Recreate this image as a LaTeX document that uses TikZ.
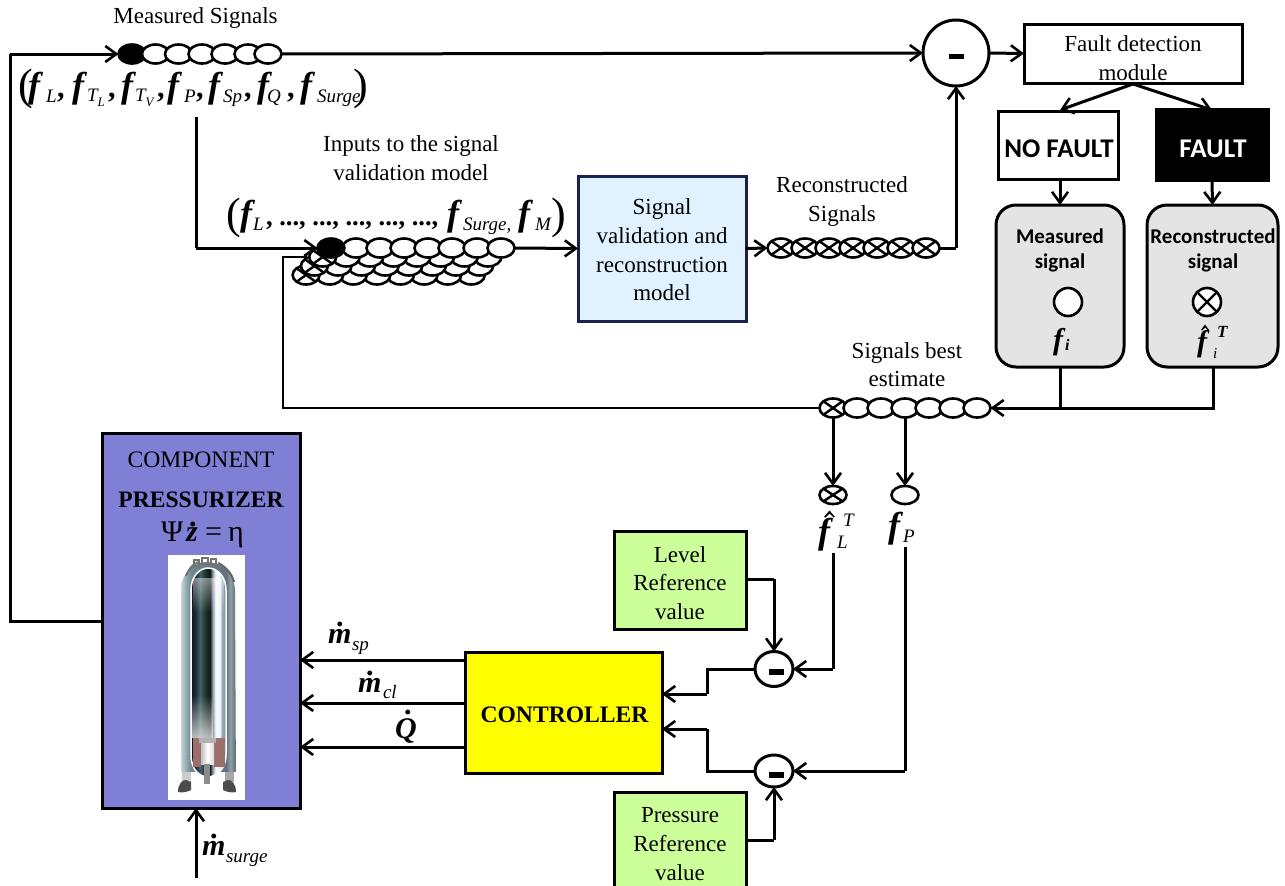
\documentclass[tikz,border=0pt]{standalone}
\usepackage{fontspec}
\setmainfont{Liberation Serif}
\newfontfamily\carl{Carlito}
\usetikzlibrary{arrows.meta,shapes.geometric,fadings}
\definecolor{compc}{HTML}{7F7FD6}
\definecolor{bluebox}{HTML}{E0F2FF}
\definecolor{navy}{HTML}{1A2050}
\definecolor{greenbox}{HTML}{CCFF99}
\definecolor{grayb}{HTML}{E4E4E4}
\definecolor{ctlc}{HTML}{FFFF00}
\definecolor{heat}{HTML}{9C6F68}
\newcommand\fsz[2]{\fontsize{#1}{#2}\selectfont}
\newcommand\BF{{\fsz{36}{36}\bfseries\itshape f}}
\newcommand\SB[1]{{\fsz{19}{19}\itshape #1}}
\newcommand\TK[3][-5pt]{\makebox[#2][l]{\BF}\raisebox{#1}{\SB{#3}}}
\newcommand\TKK[3]{\makebox[#1][l]{\BF}\raisebox{-4pt}{\SB{#2}\raisebox{-5pt}{\fsz{13}{13}\itshape #3}}}
\newcommand\DOTT[4]{\makebox[0pt][l]{\hspace{#2}\raisebox{#3}{\fsz{#4}{#4}\bfseries .}}{\fsz{#4}{#4}\bfseries\itshape #1}}
\pgfdeclarehorizontalshading{vesselout}{100bp}{rgb(0bp)=(.78,.83,.85);rgb(25bp)=(.78,.83,.85);rgb(30bp)=(.56,.66,.69);rgb(34bp)=(.44,.53,.56);rgb(66bp)=(.38,.44,.50);rgb(70bp)=(.56,.63,.66);rgb(75bp)=(.35,.41,.41);rgb(100bp)=(.35,.41,.41)}
\pgfdeclarehorizontalshading{vesselin}{100bp}{rgb(0bp)=(.06,.09,.13);rgb(25bp)=(.06,.09,.13);rgb(31bp)=(.10,.16,.19);rgb(38bp)=(.25,.38,.42);rgb(45bp)=(.13,.21,.18);rgb(52bp)=(.06,.08,.09);rgb(56bp)=(.56,.63,.66);rgb(60bp)=(.96,.97,.98);rgb(66bp)=(.96,.97,.98);rgb(69bp)=(.60,.69,.75);rgb(75bp)=(.44,.53,.60);rgb(100bp)=(.44,.53,.60)}
\tikzset{
 x=1pt,y=-1pt,
 line/.style={line width=3pt,draw=black},
 thinline/.style={line width=1.2pt,draw=black},
 arr/.style={line,-{Straight Barb[length=11pt,width=16pt,line width=2.6pt]}},
 box/.style={rectangle,draw=black,line width=3pt,inner sep=0pt,outer sep=0pt,align=center},
 lab/.style={inner sep=0pt,outer sep=0pt,align=center,font=\fsz{23}{28.7}},
 tok/.style={inner sep=0pt,outer sep=0pt,anchor=base west},
 ov/.style={ellipse,draw=black,fill=white,line width=2.6pt,minimum width=27pt,minimum height=19pt,inner sep=0pt,outer sep=0pt},
 blk/.style={ov,fill=black},
 xov/.style={ov,path picture={\draw[line width=2.4pt] (path picture bounding box.north west)--(path picture bounding box.south east) (path picture bounding box.south west)--(path picture bounding box.north east);}},
 sumc/.style={ellipse,draw=black,fill=white,line width=3pt,inner sep=0pt,outer sep=0pt},
 bar/.style={rectangle,fill=black,inner sep=0pt,outer sep=0pt},
 gbox/.style={box,rounded corners=20pt,fill=grayb},
 glab/.style={inner sep=0pt,outer sep=0pt,align=center,font=\carl\bfseries\fsz{21}{25.5}},
 flab/.style={inner sep=0pt,outer sep=0pt,font=\carl\bfseries\fsz{27}{27}},
 par/.style={tok,font=\fsz{44}{44}},
}
\begin{document}
\begin{tikzpicture}
\clip (0,0) rectangle (1285,886);
\fill[white] (0,0) rectangle (1285,886);
% component
\node[box,fill=compc,minimum width=198pt,minimum height=375pt] (comp) at (201,620.5) {};
\node[lab,font=\fsz{23.6}{23.6}] (compt) at (201,459.5) {COMPONENT};
\node[lab,font=\fsz{23.6}{23.6}\bfseries] (press) at (201,500) {PRESSURIZER};
\node[tok,font=\fsz{30}{30}] (eq1) at (161,541) {Ψ};
\node[tok] (eq2) at (186,541) {\DOTT{z}{3pt}{15pt}{30}};
\node[tok,font=\fsz{30}{30}] (eq3) at (205,541) {=};
\node[tok,font=\fsz{30}{30}] (eq4) at (228,541) {η};
% vessel illustration
\fill[white] (168,555) rectangle (245,800);
\shade[shading=vesselout] (181,790) -- (181,590) .. controls (181,572) and (195,562) .. (207,562) .. controls (220,562) and (234,572) .. (235,590) -- (236,790) -- cycle;
\fill[white] (168,772) rectangle (245,800);
\fill[black!20] (182,772) rectangle (191,782);
\fill[black!35] (225,772) rectangle (234,782);
\fill[black!70] (178,792) .. controls (178,784) and (182,780) .. (186,780) -- (191,782) -- (191,790) .. controls (187,792) and (182,793) .. (178,792) -- cycle;
\fill[black!70] (236,792) .. controls (236,784) and (232,780) .. (228,780) -- (223,782) -- (223,790) .. controls (227,792) and (232,793) .. (236,792) -- cycle;
\draw[white,line width=1.5pt,shading=vesselin,shade] (191,755) -- (191,590) .. controls (191,576) and (200,568) .. (208,568) .. controls (217,568) and (226,576) .. (226,590) -- (226,755) .. controls (226,770) and (215,777) .. (208,777) .. controls (200,777) and (191,770) .. (191,755) -- cycle;
\fill[white,opacity=.7,path fading=north] (192,695) rectangle (213,738);
\fill[white,opacity=.45,path fading=south] (193,578) rectangle (224,612);
\fill[heat] (193,738) rectangle (201,767);
\fill[heat] (214,738) rectangle (225,767);
\fill[black!30] (199,738) rectangle (216,743);
\shade[left color=black!25,right color=black!15,middle color=white] (201,743) rectangle (214,764);
\fill[black!45] (204,764) rectangle (210,784);
\draw[black!55,line width=2pt] (186,576) .. controls (190,566) and (196,562) .. (200,562);
\draw[black!55,line width=1.6pt] (194,560) rectangle (199,566) (202,558) rectangle (208,564) (211,559) rectangle (216,565);
\draw[black!60,line width=2.2pt] (218,563) .. controls (226,567) and (232,574) .. (234,582);
% measured chain
\node[blk] (m1) at (132,54) {};
\foreach \i/\x in {2/155.5,3/178.5,4/202,5/225,6/248,7/268} \node[ov] (m\i) at (\x,54) {};
\node[lab] (mlab) at (195.5,18) {Measured Signals};
% big formula
\node[par] (pl) at (19,99) {(};
\node[tok] (t1) at (28,97) {\TK{18pt}{L}};
\node[tok] (t2) at (72,97) {\TKK{15pt}{T}{L}};
\node[tok] (t3) at (121,97) {\TKK{14pt}{T}{V}};
\node[tok] (t4) at (167,97) {\TK{17pt}{P}};
\node[tok] (t5) at (208,97) {\TK{15pt}{Sp}};
\node[tok] (t6) at (257,97) {\TK{10pt}{Q}};
\node[tok] (t7) at (300,97) {\TK{17pt}{Surge}};
\foreach \i/\x in {1/57,2/108,3/157,4/196,5/244,6/287} \node[tok,font=\fsz{30}{30}\bfseries] (cm\i) at (\x,97) {,};
\node[par] (pr) at (353,99) {)};
% second formula
\node[lab] (ilab) at (411,158) {Inputs to the signal\\validation model};
\node[par] (pl2) at (226,228) {(};
\node[tok] (u1) at (240,225) {\TK{13pt}{L}};
\node[tok,font=\fsz{26.5}{26.5}\bfseries] (u2) at (266,225) {, ..., ..., ..., ..., ...,};
\node[tok] (u3) at (447,225) {\TK{16pt}{Surge,}};
\node[tok] (u4) at (518,225) {\TK{17pt}{M}};
\node[par] (pr2) at (551,228) {)};
% stacked chain
\foreach \r in {3,2,1}{
 \pgfmathsetmacro\dx{-8.3*\r}
 \pgfmathsetmacro\dy{9*\r}
 \begin{scope}[shift={(\dx,\dy)}]
 \foreach \i in {8,...,1}{
  \pgfmathsetmacro\xx{331+23.6*(\i-1)}
  \ifnum\i=1 \node[xov] (s\r-\i) at (\xx,248) {};
  \else \node[ov] (s\r-\i) at (\xx,248) {}; \fi
 }
 \end{scope}
}
\foreach \i/\x in {2/356,3/380,4/404,5/428,6/452,7/477,8/501} \node[ov] (in\i) at (\x,248) {};
\node[blk] (in1) at (331,248) {};
% validation box
\node[box,draw=navy,fill=bluebox,minimum width=168pt,minimum height=145pt] (val) at (662,248.5) {};
\node[lab] (valt) at (662,250) {Signal\\validation and\\reconstruction\\model};
% reconstructed chain
\foreach \i/\x in {1/781,2/805,3/829,4/853,5/877,6/901,7/926} \node[xov] (r\i) at (\x,248) {};
\node[lab] (rlab) at (842,201.5) {Reconstructed\\Signals};
% summing
\node[circle,draw=black,fill=white,line width=3pt,minimum size=66pt,inner sep=0pt,outer sep=0pt] (sum) at (956,53) {};
\node[bar,minimum width=15pt,minimum height=5.5pt] (sumb) at (956.5,56.5) {};
\node[box,minimum width=218pt,minimum height=59pt] (fd) at (1133,53.5) {};
\node[lab] (fdt) at (1133,58) {Fault detection\\module};
% fault boxes
\node[box,minimum width=120pt,minimum height=68pt] (nf) at (1058,145) {};
\node[flab] (nft) at (1059,149) {NO FAULT};
\node[box,fill=black,minimum width=112pt,minimum height=71pt] (fa) at (1212,144.5) {};
\node[flab,text=white] (fat) at (1213,149) {FAULT};
\node[gbox,minimum width=128pt,minimum height=162pt] (mb) at (1060,286) {};
\node[gbox,minimum width=131pt,minimum height=162pt] (rb) at (1212.5,286) {};
\node[glab] (mbt) at (1060,250.5) {Measured\\signal};
\node[glab] (rbt) at (1213,250.5) {Reconstructed\\signal};
\node[circle,draw=black,fill=white,line width=2.6pt,minimum size=28pt,inner sep=0pt] (mc) at (1068,302) {};
\node[circle,draw=black,fill=white,line width=2.6pt,minimum size=28pt,inner sep=0pt,path picture={\draw[line width=2.4pt] (path picture bounding box.north west)--(path picture bounding box.south east) (path picture bounding box.south west)--(path picture bounding box.north east);}] (rc) at (1207,302) {};
\node[tok] (fi) at (1053,349) {\fsz{30}{30}\bfseries\itshape f\kern2pt\raisebox{-1pt}{\fsz{16}{16}i}};
\node[tok] (fh) at (1197,351) {\fsz{30}{30}\bfseries\itshape f};
\fill (1201,330) -- (1205,324.5) -- (1209,330) -- (1208,330.5) -- (1205,327.5) -- (1202,330.5) -- cycle;
\node[tok] (fhT) at (1217,337) {\fsz{17}{17}\bfseries\itshape T};
\node[tok] (fhi) at (1213,358) {\fsz{15}{15}\itshape i};
% estimate chain
\node[xov] (e1) at (833,408) {};
\foreach \i/\x in {2/857,3/881,4/905,5/929,6/953,7/977} \node[ov] (e\i) at (\x,408) {};
\node[lab] (elab) at (907,364.5) {Signals best\\estimate};
\node[xov,minimum height=18pt] (fl) at (833,495) {};
\node[ov,minimum height=18pt] (fp) at (905,495) {};
\node[tok] (flf) at (818,543) {\BF};
\fill (824,517) -- (829.5,510.5) -- (835,517) -- (833.5,517.5) -- (829.5,513.5) -- (825.5,517.5) -- cycle;
\node[tok] (flT) at (843,526) {\SB{T}};
\node[tok] (flL) at (837,548) {\SB{L}};
\node[tok] (fpf) at (888,537) {\TK{15pt}{P}};
% references
\node[box,fill=greenbox,minimum width=132pt,minimum height=98pt] (lev) at (680,580) {};
\node[lab] (levt) at (680,583) {Level\\Reference\\value};
\node[box,fill=greenbox,minimum width=132pt,minimum height=100pt] (prs) at (680,842) {};
\node[lab] (prst) at (680,844) {Pressure\\Reference\\value};
\node[box,fill=ctlc,minimum width=197pt,minimum height=121pt] (ctl) at (563.5,712.5) {};
\node[lab,font=\fsz{23.6}{23.6}\bfseries] (ctlt) at (564.5,715) {CONTROLLER};
\node[sumc,minimum width=38pt,minimum height=35pt] (s1) at (774,669) {};
\node[bar,minimum width=15pt,minimum height=6pt] (s1b) at (776,672) {};
\node[sumc,minimum width=38pt,minimum height=32pt] (s2) at (774,771) {};
\node[bar,minimum width=15pt,minimum height=6pt] (s2b) at (776,774.5) {};
% labels m
\node[tok] (msp) at (328,643) {\DOTT{m}{8pt}{17pt}{30}};
\node[tok] (mspb) at (352,650) {\SB{sp}};
\node[tok] (mcl) at (358,692) {\DOTT{m}{8pt}{17pt}{30}};
\node[tok] (mclb) at (383,698) {\SB{cl}};
\node[tok] (qd) at (395,738) {\DOTT{Q}{9pt}{24pt}{30}};
\node[tok] (ms) at (202,855) {\DOTT{m}{8pt}{17pt}{30}};
\node[tok] (msb) at (226,862) {\SB{surge}};
% free ends
\coordinate (a1) at (102,621);
\coordinate (a2) at (10,621);
\coordinate (a3) at (10,54);
\coordinate (b1) at (196,117);
\coordinate (b2) at (196,248);
\coordinate (c1) at (307,257);
\coordinate (c2) at (283,257);
\coordinate (c3) at (283,408);
\coordinate (d1) at (956,248);
\coordinate (f0) at (1133,84);
\coordinate (f1) at (1060,110);
\coordinate (f2) at (1212,110);
\coordinate (g1) at (1060,408);
\coordinate (g2) at (1213,408);
\coordinate (h1) at (833,553);
\coordinate (h2) at (833,669);
\coordinate (h3) at (905,547);
\coordinate (h4) at (905,771);
\coordinate (i1) at (774,579);
\coordinate (i2) at (774,840);
\coordinate (j1) at (707,669);
\coordinate (j2) at (707,694);
\coordinate (j3) at (707,771);
\coordinate (j4) at (707,729);
\coordinate (k1) at (196,878);
% connectors
\draw[line] (comp.west |- a1) -- (a2) -- (a3);
\draw[arr] (a3) -- (m1.west);
\draw[arr] (m7.east) -- (sum.west);
\draw[arr] (sum.east) -- (fd.west);
\draw[line] (b1) -- (b2);
\draw[arr] (b2) -- (in1.west);
\draw[arr] (in8.east) -- (val.west);
\draw[arr] (val.east) -- (r1.west);
\draw[line] (r7.east) -- (d1);
\draw[arr] (d1) -- (sum.south);
\draw[arr] (f0) -- (f1);
\draw[arr] (f0) -- (f2);
\draw[arr] (mb.north |- nf.south) -- (mb.north);
\draw[arr] (fa.south) -- (rb.north);
\draw[line] (mb.south) -- (g1);
\draw[line] (rb.south -| g2) -- (g2) -- (g1);
\draw[arr] (g1) -- (e7.east);
\draw[thinline] (e1.west) -- (c3) -- (c2) -- (c1);
\draw[arr] (e1.south) -- (fl.north);
\draw[arr] (e4.south) -- (fp.north);
\draw[line] (h1) -- (h2);
\draw[arr] (h2) -- (s1.east);
\draw[line] (h3) -- (h4);
\draw[arr] (h4) -- (s2.east);
\draw[line] (lev.east |- i1) -- (i1);
\draw[arr] (i1) -- (s1.north);
\draw[line] (prs.east |- i2) -- (i2);
\draw[arr] (i2) -- (s2.south);
\draw[line] (s1.west) -- (j1) -- (j2);
\draw[arr] (j2) -- (ctl.east |- j2);
\draw[line] (s2.west) -- (j3) -- (j4);
\draw[arr] (j4) -- (ctl.east |- j4);
\draw[arr] (ctl.west |- 0,660) -- (comp.east |- 0,660);
\draw[arr] (ctl.west |- 0,703) -- (comp.east |- 0,703);
\draw[arr] (ctl.west |- 0,747) -- (comp.east |- 0,747);
\draw[arr] (k1) -- (comp.south -| k1);
\end{tikzpicture}
\end{document}
